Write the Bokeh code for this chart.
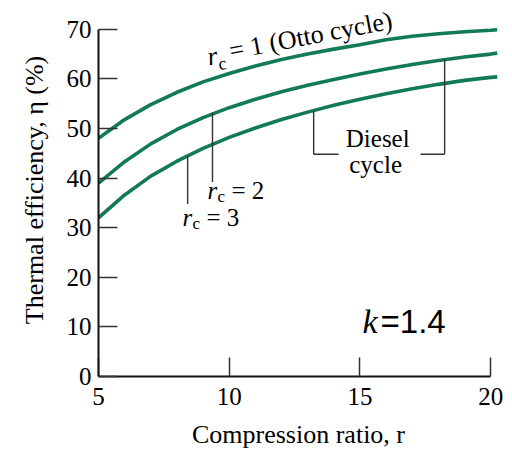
from bokeh.plotting import figure
from bokeh.models import Range1d, FixedTicker, Label, ColumnDataSource
from bokeh.embed import file_html
from bokeh.resources import INLINE

# ---- data ----
ratio = [5, 6, 7, 8, 9, 10, 11, 12, 13, 14, 15, 16, 17, 18, 19, 20, 20.25]
eff_otto = [48.0, 51.8, 54.8, 57.3, 59.4, 61.1, 62.6, 63.9, 65.0, 66.0, 66.9, 67.9, 68.6, 69.1, 69.5, 69.8, 69.9]
eff_rc2 = [39.0, 43.3, 46.9, 49.8, 52.2, 54.2, 55.9, 57.4, 58.7, 59.9, 61.0, 62.0, 62.9, 63.7, 64.4, 65.0, 65.2]
eff_rc3 = [32.0, 36.6, 40.4, 43.4, 46.0, 48.2, 50.1, 51.8, 53.3, 54.7, 55.9, 57.0, 58.0, 58.9, 59.7, 60.3, 60.4]
x_ticks = [5, 10, 15, 20]
y_ticks = [0, 10, 20, 30, 40, 50, 60, 70]

GREEN = "#127a55"
SERIF = "Liberation Serif"
SANS = "Liberation Sans"

p = figure(width=512, height=451, x_range=Range1d(5, 20.3), y_range=Range1d(0, 75.2),
           output_backend="svg", toolbar_location=None,
           min_border_left=98, min_border_right=14, min_border_top=3, min_border_bottom=72)
p.outline_line_color = None
p.xgrid.visible = False
p.ygrid.visible = False
p.background_fill_color = "white"

for ax in (p.xaxis[0], p.yaxis[0]):
    ax.axis_line_width = 2
    ax.axis_line_color = "#111111"
    ax.major_tick_line_color = "#333333"
    ax.major_tick_line_width = 1.5
    ax.major_tick_in = 19
    ax.major_tick_out = 0
    ax.minor_tick_line_color = None
    ax.major_label_text_font = SERIF
    ax.major_label_text_font_size = "25px"
    ax.major_label_text_color = "#000000"
    ax.axis_label_text_font = SERIF
    ax.axis_label_text_font_size = "26px"
    ax.axis_label_text_font_style = "normal"
    ax.axis_label_text_color = "#000000"

p.xaxis.ticker = FixedTicker(ticks=x_ticks)
p.yaxis.ticker = FixedTicker(ticks=y_ticks)
p.xaxis.bounds = (5, 20)
p.yaxis.bounds = (0, 70)
p.yaxis.major_label_standoff = 7
p.xaxis.major_label_standoff = 11
p.yaxis.axis_label = "Thermal efficiency, η (%)"
p.yaxis.axis_label_standoff = 15
p.xaxis.axis_label = "Compression ratio, r"
p.xaxis.axis_label_standoff = 12

src = ColumnDataSource(dict(r=ratio, otto=eff_otto, rc2=eff_rc2, rc3=eff_rc3))
for col in ("otto", "rc2", "rc3"):
    p.line("r", col, source=src, line_color=GREEN, line_width=3.6)

# leader lines
lead = dict(line_color="#333333", line_width=1.4)
p.segment(x0=[9.36, 8.41, 13.23, 13.23, 17.32, 18.24],
          y0=[53.2, 44.4, 53.6, 44.8, 44.8, 44.8],
          x1=[9.36, 8.41, 13.23, 14.18, 18.24, 18.24],
          y1=[39.2, 34.8, 44.8, 44.8, 44.8, 63.9], **lead)

def add(text, x, y, size, font=SERIF, style="normal", xo=0, yo=0, angle=0, align="left"):
    p.add_layout(Label(x=x, y=y, text=text, x_offset=xo, y_offset=yo, angle=angle,
                       angle_units="deg", text_font=font, text_font_size=size,
                       text_font_style=style, text_color="#000000",
                       text_align=align, text_baseline="alphabetic"))

# r_c = 1 (Otto cycle), along the curve
add("r", 9.17, 63.6, "26px", style="italic", angle=10.8, yo=4)
add("c", 9.59, 62.1, "18px", angle=10.8, yo=4)
add("= 1 (Otto cycle)", 10.01, 64.8, "26px", angle=10.8, yo=4)

# r_c = 2 and r_c = 3
add("r", 9.17, 35.8, "25px", style="italic", yo=8)
add("c", 9.17, 35.8, "17px", xo=10, yo=2)
add("= 2", 9.17, 35.8, "25px", xo=24, yo=8)
add("r", 8.21, 30.4, "25px", style="italic", yo=8)
add("c", 8.21, 30.4, "17px", xo=10, yo=2)
add("= 3", 8.21, 30.4, "25px", xo=24, yo=8)

# Diesel cycle
add("Diesel", 15.68, 46.4, "25px", align="center", yo=8)
add("cycle", 15.6, 41.2, "25px", align="center", yo=8)

# k = 1.4
add("k", 15.10, 9.4, "34px", style="italic", yo=8)
add("=1.4", 15.10, 9.4, "33px", font=SANS, xo=18, yo=8)

open("out.html", "w").write(file_html(p, INLINE))
